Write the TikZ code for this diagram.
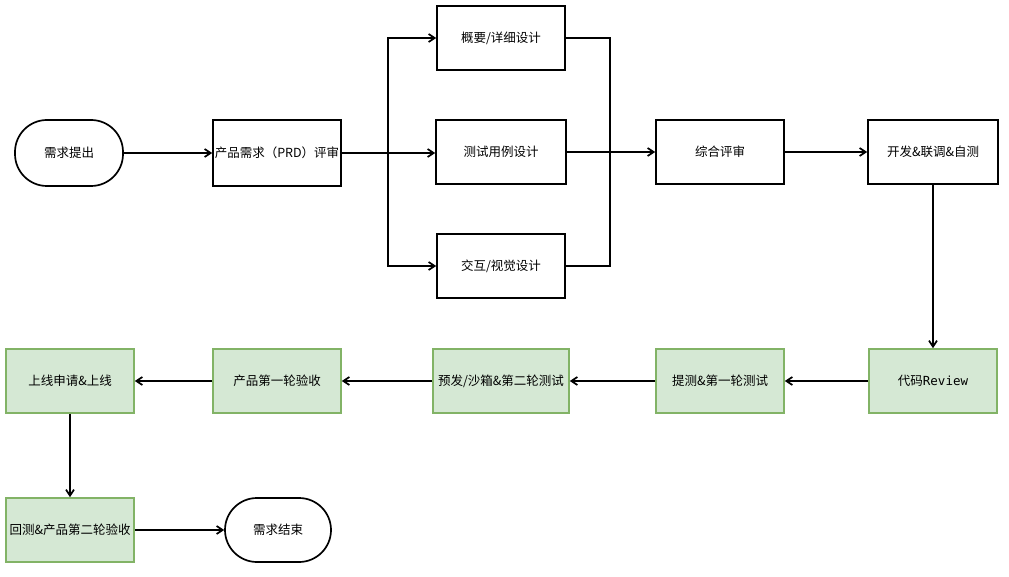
\documentclass[tikz,border=0pt]{standalone}
\usepackage{fontspec}
\setmainfont{Noto Sans CJK SC}
\newfontfamily\revmono{DejaVu Sans Mono}
\usetikzlibrary{arrows.meta}
\definecolor{gstroke}{RGB}{130,179,102}
\definecolor{gfill}{RGB}{213,232,212}
\begin{document}
\begin{tikzpicture}[x=1pt,y=-1pt,
  font=\fontsize{12.5}{14}\selectfont,
  box/.style={draw=black,line width=1.7pt,fill=white,minimum width=128pt,minimum height=64pt,inner sep=1pt},
  gbox/.style={draw=gstroke,line width=1.7pt,fill=gfill,minimum width=128pt,minimum height=64pt,inner sep=1pt},
  term/.style={draw=black,line width=1.7pt,fill=white,rounded corners=32pt,minimum width=108pt,minimum height=66pt},
  arr/.style={draw=black,line width=1.7pt,-{Straight Barb[length=6pt,width=8pt]}},
  ln/.style={draw=black,line width=1.7pt}]
\useasboundingbox (0,0) rectangle (1009,577);
% top row
\node[term] (start) at (69,153) {需求提出};
\node[box,minimum width=128pt,minimum height=66pt] (prd) at (277,153) {产品需求（PRD）评审};
\node[box] (d1) at (501,38) {概要/详细设计};
\node[box,minimum width=130pt] (d2) at (501,152) {测试用例设计};
\node[box] (d3) at (501,266) {交互/视觉设计};
\node[box,minimum height=64pt] (zh) at (720,152) {综合评审};
\node[box,minimum width=130pt,minimum height=64pt] (dev) at (933,152) {开发\&联调\&自测};
% middle row
\node[gbox] (cr) at (933,381) {代码{\revmono Review}};
\node[gbox] (t1) at (720,381) {提测\&第一轮测试};
\node[gbox,minimum width=136pt] (t2) at (501,381) {预发/沙箱\&第二轮测试};
\node[gbox] (p1) at (277,381) {产品第一轮验收};
\node[gbox] (up) at (70,381) {上线申请\&上线};
% bottom row
\node[gbox] (rt) at (70,530) {回测\&产品第二轮验收};
\node[term,minimum width=106pt,minimum height=64pt] (end) at (278,530) {需求结束};
% coordinates
\coordinate (fork) at (388,153);
\coordinate (merge) at (610,152);
% connectors
\draw[arr] (start.east) -- (prd.west |- start.east);
\draw[ln] (prd.east |- fork) -- (fork);
\draw[arr] (fork) |- (d1.west);
\draw[arr] (fork) -- (d2.west |- fork);
\draw[arr] (fork) |- (d3.west);
\draw[ln] (d1.east) -| (merge);
\draw[ln] (d3.east) -| (merge);
\draw[ln] (d2.east |- merge) -- (merge);
\draw[arr] (merge) -- (zh.west);
\draw[arr] (zh.east) -- (dev.west);
\draw[arr] (dev.south) -- (cr.north);
\draw[arr] (cr.west) -- (t1.east);
\draw[arr] (t1.west) -- (t2.east);
\draw[arr] (t2.west) -- (p1.east);
\draw[arr] (p1.west) -- (up.east);
\draw[arr] (up.south) -- (rt.north);
\draw[arr] (rt.east) -- (end.west);
\end{tikzpicture}
\end{document}
